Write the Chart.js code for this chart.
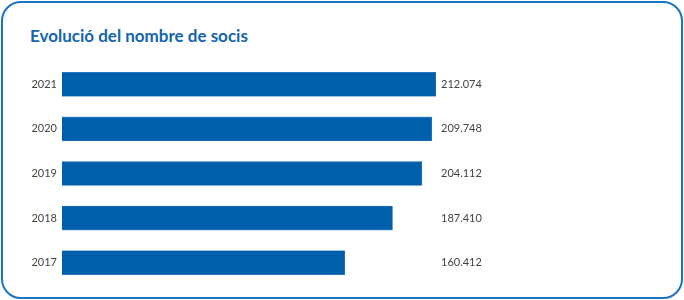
<!DOCTYPE html>
<html lang="ca">
<head>
    <meta charset="UTF-8">
    <script src="https://cdn.jsdelivr.net/npm/chart.js"></script>
    <style>
        body {
            margin: 0;
            padding: 0;
            background: #ffffff;
            font-family: "Lato", sans-serif;
        }
        #card {
            position: absolute;
            left: 1px;
            top: 1px;
            width: 678px;
            height: 294px;
            border: 2px solid #1a74c1;
            border-radius: 20px;
        }
        #title {
            position: absolute;
            left: 30px;
            top: 25px;
            margin: 0;
            font-size: 17px;
            font-weight: bold;
            color: #1464ae;
        }
        #chart {
            position: absolute;
            left: 0;
            top: 0;
        }
    </style>
</head>
<body>
    <div id="card"></div>
    <h2 id="title">Evolució del nombre de socis</h2>
    <canvas id="chart" width="684" height="300"></canvas>
    <script>
        // dades
        const anys = ['2021', '2020', '2019', '2018', '2017'];
        const socis = [212074, 209748, 204112, 187410, 160412];

        // 212074 -> 212.074
        function formatNum(v) {
            return String(v).replace(/\B(?=(\d{3})+(?!\d))/g, '.');
        }
        const etiquetes = socis.map(formatNum);

        const ctx = document.getElementById('chart').getContext('2d');
        new Chart(ctx, {
            type: 'bar',
            data: {
                labels: anys,
                datasets: [{
                    data: socis,
                    backgroundColor: '#005fab',
                    borderColor: '#4f91cf',
                    borderWidth: 0.6,
                    barThickness: 24,
                    yAxisID: 'y'
                }]
            },
            options: {
                indexAxis: 'y',
                responsive: false,
                animation: false,
                events: [],
                layout: {
                    padding: { top: 62, bottom: 15, left: 0, right: 0 }
                },
                plugins: {
                    legend: { display: false },
                    tooltip: { enabled: false }
                },
                scales: {
                    x: {
                        display: false,
                        min: 0,
                        max: Math.max(...socis)
                    },
                    y: {
                        position: 'left',
                        grid: { display: false, drawTicks: false },
                        border: { display: false },
                        ticks: {
                            padding: 5,
                            color: '#444444',
                            font: { family: 'Lato', size: 11 }
                        },
                        afterFit: (scale) => { scale.width = 62; }
                    },
                    y2: {
                        type: 'category',
                        position: 'right',
                        labels: etiquetes,
                        offset: true,
                        grid: { display: false, drawTicks: false },
                        border: { display: false },
                        ticks: {
                            padding: 5,
                            color: '#444444',
                            font: { family: 'Lato', size: 11 }
                        },
                        afterFit: (scale) => { scale.width = 248; }
                    }
                }
            }
        });
    </script>
</body>
</html>
